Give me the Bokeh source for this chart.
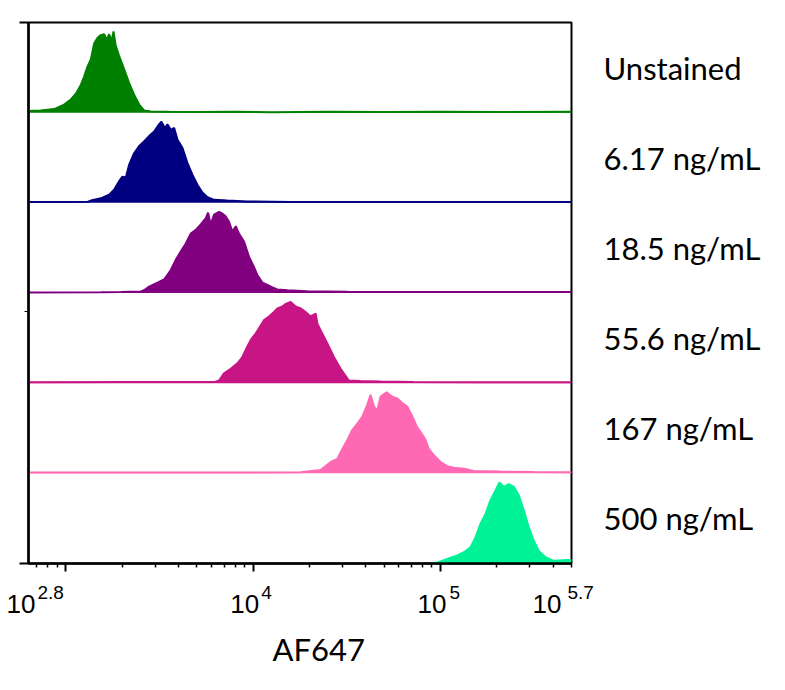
import math
import numpy as np
from bokeh.plotting import figure
from bokeh.models import (Range1d, FixedTicker, CustomJSTickFormatter, LogAxis,
                          LinearAxis, Title)
from bokeh.embed import file_html
from bokeh.resources import INLINE

# ---------------- data ----------------
SAMPLES = ["Unstained", "6.17 ng/mL", "18.5 ng/mL", "55.6 ng/mL", "167 ng/mL", "500 ng/mL"]

# x positions as log10(AF647 intensity), heights as fraction of a row (normalised counts)
UNSTAINED_LOGX = [2.80, 2.813, 2.866, 2.937, 2.990, 3.026, 3.053, 3.080, 3.097, 3.115, 3.133,
                  3.151, 3.169, 3.186, 3.204, 3.218, 3.231, 3.243, 3.254, 3.266, 3.284, 3.311,
                  3.337, 3.364, 3.391, 3.417, 3.453, 3.55, 3.70, 3.90, 4.10, 4.40, 4.70, 5.00,
                  5.30, 5.70]
UNSTAINED_H = [0.015, 0.02, 0.025, 0.04, 0.09, 0.146, 0.21, 0.31, 0.40, 0.51, 0.59,
               0.77, 0.83, 0.86, 0.87, 0.81, 0.87, 0.79, 0.90, 0.74, 0.63, 0.48,
               0.33, 0.20, 0.09, 0.025, 0.012, 0.01, 0.008, 0.01, 0.006, 0.01, 0.008, 0.01,
               0.008, 0.01]

C617_LOGX = [2.80, 2.973, 3.117, 3.133, 3.186, 3.231, 3.257, 3.284, 3.302, 3.320, 3.337,
             3.364, 3.391, 3.417, 3.444, 3.471, 3.497, 3.510, 3.528, 3.542, 3.560, 3.578,
             3.596, 3.622, 3.649, 3.676, 3.702, 3.729, 3.756, 3.791, 3.862, 3.969, 4.20,
             4.60, 5.00, 5.40, 5.70]
C617_H = [0.01, 0.01, 0.012, 0.025, 0.05, 0.09, 0.145, 0.24, 0.29, 0.28, 0.42,
          0.55, 0.63, 0.68, 0.74, 0.79, 0.87, 0.90, 0.83, 0.87, 0.81, 0.83,
          0.70, 0.61, 0.44, 0.31, 0.20, 0.115, 0.063, 0.033, 0.025, 0.015, 0.01,
          0.008, 0.01, 0.008, 0.01]

C185_LOGX = [2.80, 3.186, 3.293, 3.400, 3.417, 3.444, 3.489, 3.524, 3.560, 3.587, 3.613,
             3.640, 3.667, 3.693, 3.720, 3.747, 3.759, 3.773, 3.791, 3.818, 3.836, 3.853,
             3.871, 3.889, 3.907, 3.924, 3.951, 3.978, 4.004, 4.022, 4.049, 4.076, 4.103,
             4.129, 4.183, 4.289, 4.504, 4.787, 5.20, 5.70]
C185_H = [0.005, 0.008, 0.012, 0.018, 0.03, 0.07, 0.115, 0.15, 0.255, 0.37, 0.46,
          0.55, 0.66, 0.70, 0.76, 0.83, 0.89, 0.76, 0.87, 0.90, 0.88, 0.85,
          0.79, 0.68, 0.74, 0.66, 0.57, 0.40, 0.29, 0.20, 0.115, 0.09, 0.063,
          0.04, 0.03, 0.02, 0.015, 0.01, 0.01, 0.01]

C556_LOGX = [2.80, 3.30, 3.791, 3.818, 3.844, 3.880, 3.916, 3.942, 3.960, 3.987, 4.013,
             4.031, 4.058, 4.084, 4.111, 4.129, 4.156, 4.174, 4.200, 4.227, 4.254, 4.280,
             4.307, 4.334, 4.343, 4.369, 4.396, 4.431, 4.467, 4.511, 4.574, 4.680, 4.857,
             5.20, 5.70]
C556_H = [0.01, 0.012, 0.012, 0.03, 0.11, 0.16, 0.22, 0.29, 0.37, 0.48, 0.55,
          0.61, 0.70, 0.74, 0.79, 0.83, 0.85, 0.88, 0.90, 0.85, 0.83, 0.79,
          0.74, 0.77, 0.66, 0.55, 0.44, 0.29, 0.16, 0.03, 0.025, 0.018, 0.012,
          0.01, 0.01]

C167_LOGX = [2.80, 3.60, 4.254, 4.360, 4.414, 4.449, 4.476, 4.503, 4.529, 4.556, 4.583,
             4.609, 4.627, 4.645, 4.663, 4.680, 4.712, 4.743, 4.770, 4.796, 4.823, 4.850,
             4.876, 4.903, 4.921, 4.938, 4.965, 5.001, 5.036, 5.072, 5.125, 5.178, 5.321,
             5.497, 5.70]
C167_H = [0.008, 0.008, 0.012, 0.037, 0.126, 0.16, 0.27, 0.37, 0.48, 0.55, 0.63,
          0.76, 0.87, 0.74, 0.70, 0.85, 0.90, 0.85, 0.83, 0.78, 0.74, 0.63,
          0.51, 0.43, 0.37, 0.27, 0.20, 0.126, 0.08, 0.063, 0.052, 0.026, 0.02,
          0.015, 0.012]

C500_LOGX = [4.95, 4.983, 5.036, 5.090, 5.125, 5.161, 5.187, 5.214, 5.241, 5.267, 5.294,
             5.315, 5.338, 5.365, 5.392, 5.418, 5.445, 5.472, 5.498, 5.525, 5.561, 5.605,
             5.677, 5.70]
C500_H = [0.0, 0.01, 0.05, 0.09, 0.125, 0.18, 0.29, 0.44, 0.55, 0.70, 0.81,
          0.90, 0.85, 0.88, 0.85, 0.76, 0.59, 0.40, 0.255, 0.14, 0.07, 0.03,
          0.04, 0.04]

SERIES_LOGX = [UNSTAINED_LOGX, C617_LOGX, C185_LOGX, C556_LOGX, C167_LOGX, C500_LOGX]
SERIES_H = [UNSTAINED_H, C617_H, C185_H, C556_H, C167_H, C500_H]

X_MIN_EXP, X_MAX_EXP = 2.8, 5.7
MAJOR_TICKS = [1e3, 1e4, 1e5]
MINOR_TICKS = [700, 800, 900,
               2e3, 3e3, 4e3, 5e3, 6e3, 7e3, 8e3, 9e3,
               2e4, 3e4, 4e4, 5e4, 6e4, 7e4, 8e4, 9e4,
               2e5, 3e5, 4e5, 5e5]
TICK_LABEL_EXP = [2.8, 4.0, 5.0, 5.7]
TICK_LABEL_SUP = ["2.8", "4", "5", "5.7"]
X_TITLE = "AF647"

# ---------------- style / layout ----------------
COLORS = ["#008000", "#000080", "#800080", "#C71585", "#FF69B4", "#00F296"]
TEN_RIGHT_OFFSET = [7, 6, 6, -10]     # px, right edge of "10" relative to tick
SUP_LEFT_OFFSET = [9, 8, 9, -4]       # px, left edge of exponent relative to tick
TEN_SIZE, SUP_SIZE = 26, 19
FRAME_W, FRAME_H = 543, 541
BORDER_L, BORDER_T, BORDER_R, BORDER_B = 28, 22, 200, 125
PX_PER_DECADE = FRAME_W / (X_MAX_EXP - X_MIN_EXP)
PAD = "\u00a0"          # no-break space (0.278 em in Liberation Sans), not collapsed
PAD_EM = 0.278


def text_width(s, size):
    # approximate advance widths of Liberation Sans digits / period
    return sum(0.278 if c == "." else 0.556 for c in s) * size


def place(exp, left_px, text, size):
    """Return (tick value, label) so that a centred label has its visible text
    starting at left_px from the tick; pads with no-break spaces to keep the
    centre inside the frame (ticks outside the range are dropped by Bokeh)."""
    tick_px = (exp - X_MIN_EXP) * PX_PER_DECADE
    w = text_width(text, size)
    centre = tick_px + left_px + w / 2
    step = PAD_EM * size / 2
    label = text
    if centre < 2:
        k = math.ceil((2 - centre) / step)
        label = text + PAD * k
        centre += k * step
    elif centre > FRAME_W - 2:
        k = math.ceil((centre - (FRAME_W - 2)) / step)
        label = PAD * k + text
        centre -= k * step
    return 10 ** (X_MIN_EXP + centre / PX_PER_DECADE), label


n = len(SAMPLES)
p = figure(width=BORDER_L + FRAME_W + BORDER_R, height=BORDER_T + FRAME_H + BORDER_B,
           x_axis_type="log",
           x_range=Range1d(10 ** X_MIN_EXP, 10 ** X_MAX_EXP),
           y_range=Range1d(0, n),
           output_backend="svg", toolbar_location=None,
           min_border_left=BORDER_L, min_border_top=BORDER_T,
           min_border_right=BORDER_R, min_border_bottom=BORDER_B)
p.background_fill_color = "white"
p.border_fill_color = "white"
p.xgrid.visible = False
p.ygrid.visible = False
p.outline_line_color = "black"
p.outline_line_width = 2

for i in range(n):
    base = n - 1 - i
    xs = 10 ** np.array(SERIES_LOGX[i])
    top = base + np.array(SERIES_H[i])
    p.varea(x=xs, y1=np.full(len(xs), float(base)), y2=top, fill_color=COLORS[i])
    p.line(x=xs, y=top, line_color=COLORS[i], line_width=2)

empty = CustomJSTickFormatter(code="return ''")

xa = p.xaxis[0]
xa.ticker = FixedTicker(ticks=MAJOR_TICKS, minor_ticks=MINOR_TICKS)
xa.formatter = empty
xa.axis_line_width = 2.5
xa.axis_line_color = "black"
xa.major_tick_line_width = 2
xa.major_tick_out = 8
xa.major_tick_in = 0
xa.minor_tick_line_width = 1.5
xa.minor_tick_out = 4
xa.minor_tick_in = 0
xa.major_label_standoff = 0
xa.major_label_text_font_size = "1px"

ya = p.yaxis[0]
ya.ticker = FixedTicker(ticks=[0, n], minor_ticks=[2.8])
ya.formatter = empty
ya.axis_line_width = 2.5
ya.axis_line_color = "black"
ya.major_tick_line_width = 2
ya.major_tick_out = 9
ya.major_tick_in = 0
ya.minor_tick_line_width = 1
ya.minor_tick_out = 4
ya.minor_tick_in = 0
ya.major_label_standoff = 0
ya.major_label_text_font_size = "1px"


def text_axis(placed, size, standoff, font):
    ticks = [t for t, _ in placed]
    labels = [s for _, s in placed]
    ax = LogAxis(ticker=FixedTicker(ticks=ticks, minor_ticks=[]),
                 formatter=CustomJSTickFormatter(args=dict(labels=labels),
                                                 code="return labels[index]"),
                 axis_line_color=None, major_tick_line_color=None,
                 minor_tick_line_color=None, major_tick_out=0, major_tick_in=0,
                 minor_tick_out=0, minor_tick_in=0,
                 major_label_standoff=standoff,
                 major_label_text_font=font,
                 major_label_text_font_size=f"{size}px",
                 major_label_text_color="black")
    return ax


sup_placed = [place(e, o, s, SUP_SIZE)
              for e, o, s in zip(TICK_LABEL_EXP, SUP_LEFT_OFFSET, TICK_LABEL_SUP)]
ten_placed = [place(e, o - text_width("10", TEN_SIZE), "10", TEN_SIZE)
              for e, o in zip(TICK_LABEL_EXP, TEN_RIGHT_OFFSET)]

p.add_layout(text_axis(sup_placed, SUP_SIZE, 10, "Liberation Sans"), "below")
p.add_layout(text_axis(ten_placed, TEN_SIZE, -17, "Liberation Sans"), "below")

p.add_layout(Title(text=X_TITLE, align="left", offset=244, standoff=13,
                   text_font="Lato", text_font_size="31px", text_font_style="normal",
                   text_color="black"), "below")

names_ax = LinearAxis(ticker=FixedTicker(ticks=[i + 0.5 for i in range(n)], minor_ticks=[]),
                      formatter=CustomJSTickFormatter(args=dict(labels=SAMPLES[::-1]),
                                                      code="return labels[index]"),
                      axis_line_color=None, major_tick_line_color=None,
                      minor_tick_line_color=None, major_tick_out=0, major_tick_in=0,
                      minor_tick_out=0, minor_tick_in=0,
                      major_label_standoff=32,
                      major_label_text_font="Lato",
                      major_label_text_font_size="31px",
                      major_label_text_color="black")
p.add_layout(names_ax, "right")

open("out.html", "w").write(file_html(p, INLINE))
